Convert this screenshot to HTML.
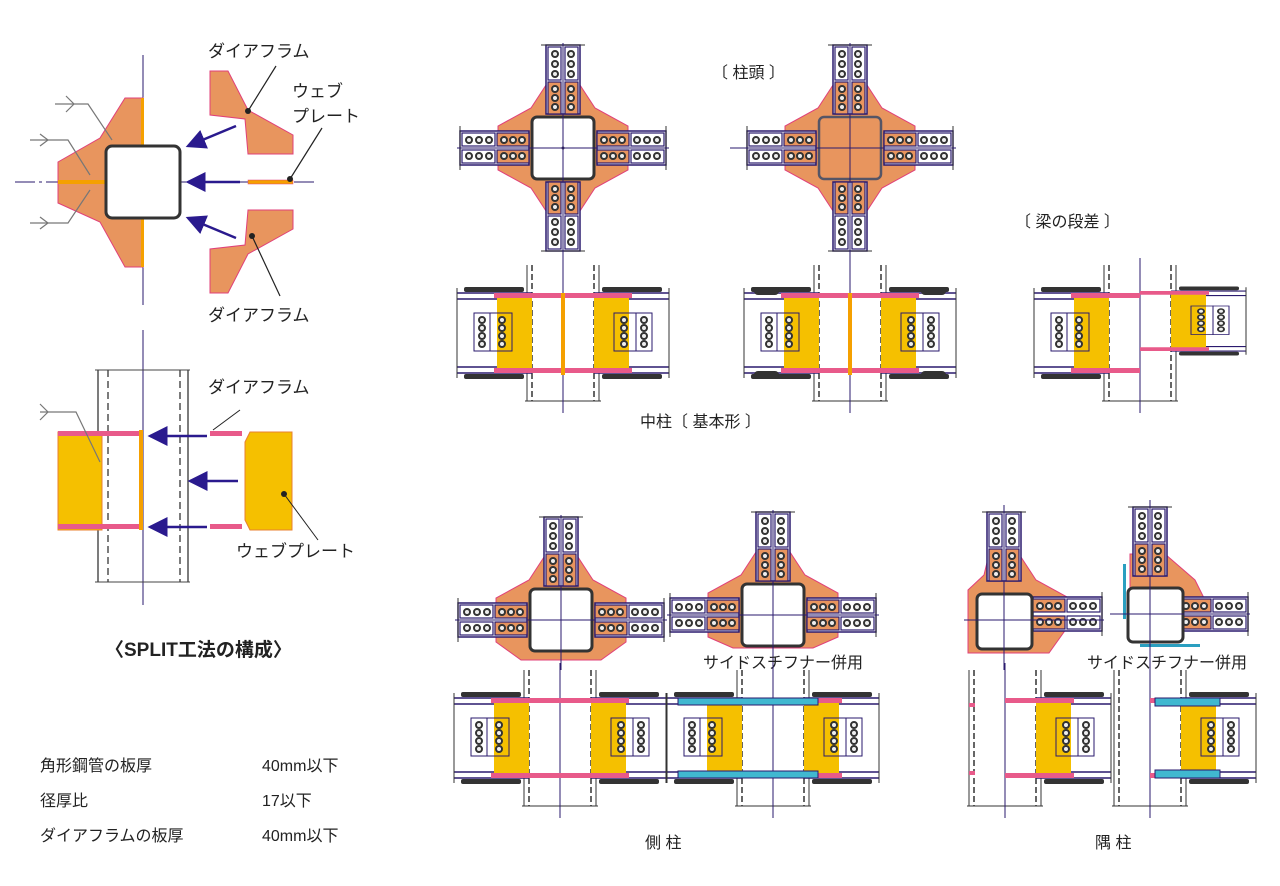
<!DOCTYPE html>
<html><head><meta charset="utf-8"><style>
html,body{margin:0;padding:0;background:#fff;}
svg{display:block}
text{font-family:"Liberation Sans","Noto Sans CJK JP",sans-serif;fill:#222;}
</style></head><body>
<svg width="1280" height="886" viewBox="0 0 1280 886" xmlns="http://www.w3.org/2000/svg">
<defs>
  <g id="bolt"><circle r="3" fill="#eee" stroke="#333" stroke-width="2"/></g>
  <g id="arm">
    <rect x="-17" y="-103" width="34" height="69" fill="#fff" stroke="#2a1a6e" stroke-width="1.5"/>
    <rect x="-15" y="-66" width="13" height="32" fill="#e8955e" stroke="#2a1a6e" stroke-width="1.2"/>
    <rect x="2" y="-66" width="13" height="32" fill="#e8955e" stroke="#2a1a6e" stroke-width="1.2"/>
    <rect x="-15" y="-101" width="13" height="33" fill="none" stroke="#2a1a6e" stroke-width="1.2"/>
    <rect x="2" y="-101" width="13" height="33" fill="none" stroke="#2a1a6e" stroke-width="1.2"/>
    <line x1="-22" y1="-103" x2="22" y2="-103" stroke="#333"/>
    <use href="#bolt" x="-8" y="-94"/><use href="#bolt" x="-8" y="-84"/><use href="#bolt" x="-8" y="-74"/>
    <use href="#bolt" x="8" y="-94"/><use href="#bolt" x="8" y="-84"/><use href="#bolt" x="8" y="-74"/>
    <use href="#bolt" x="-8" y="-59"/><use href="#bolt" x="-8" y="-50"/><use href="#bolt" x="-8" y="-41"/>
    <use href="#bolt" x="8" y="-59"/><use href="#bolt" x="8" y="-50"/><use href="#bolt" x="8" y="-41"/>
  </g>
  <polygon id="core" points="-15,-66 15,-66 32,-40 65,-22 65,22 32,40 15,66 -15,66 -32,40 -65,22 -65,-22 -32,-40" fill="#e8955e" stroke="#e0407a" stroke-width="1"/>
  <rect id="sq" x="-31" y="-31" width="62" height="62" rx="5" fill="#fff" stroke="#333" stroke-width="3"/>
  <g id="ebeam">
    <line x1="0" y1="-40" x2="75" y2="-40" stroke="#2a1a6e" stroke-width="1.5"/>
    <line x1="0" y1="-34" x2="75" y2="-34" stroke="#2a1a6e" stroke-width="1.5"/>
    <line x1="0" y1="34" x2="75" y2="34" stroke="#2a1a6e" stroke-width="1.5"/>
    <line x1="0" y1="40" x2="75" y2="40" stroke="#2a1a6e" stroke-width="1.5"/>
    <rect x="0" y="-37" width="35" height="73" fill="#f5c000"/>
    <rect x="-31" y="-40" width="69" height="5" fill="#e85a8a"/>
    <rect x="-31" y="35" width="69" height="5" fill="#e85a8a"/>
    <rect x="20" y="-20" width="22" height="38" fill="none" stroke="#2a1a6e"/>
    <rect x="42" y="-20" width="16" height="38" fill="#fff" stroke="#2a1a6e"/>
    <g fill="#333"><rect x="8" y="-46" width="60" height="5" rx="2"/><rect x="8" y="41" width="60" height="5" rx="2"/></g>
    <use href="#bolt" x="30" y="-13"/><use href="#bolt" x="30" y="-5"/><use href="#bolt" x="30" y="3"/><use href="#bolt" x="30" y="11"/>
    <use href="#bolt" x="50" y="-13"/><use href="#bolt" x="50" y="-5"/><use href="#bolt" x="50" y="3"/><use href="#bolt" x="50" y="11"/>
    <line x1="75" y1="-45" x2="75" y2="45" stroke="#333"/>
  </g>
  <g id="ecol">
    <line x1="-31" y1="-68" x2="-31" y2="68" stroke="#333" stroke-width="1.5" stroke-dasharray="6,3"/>
    <line x1="31" y1="-68" x2="31" y2="68" stroke="#333" stroke-width="1.5" stroke-dasharray="6,3"/>
    <line x1="-36" y1="-68" x2="-36" y2="68" stroke="#333"/>
    <line x1="36" y1="-68" x2="36" y2="68" stroke="#333"/>
    <line x1="-38" y1="68" x2="38" y2="68" stroke="#333"/>
    <line x1="0" y1="-75" x2="0" y2="80" stroke="#2a1a6e"/>
  </g>
  <marker id="ah" markerWidth="8" markerHeight="8" refX="7" refY="4" orient="auto"><path d="M0,0 L8,4 L0,8z" fill="#2a1a8e"/></marker>
</defs>

<!-- LEFT TOP PLAN -->
<line x1="143" y1="55" x2="143" y2="305" stroke="#2a1a6e"/>
<line x1="15" y1="182" x2="315" y2="182" stroke="#2a1a6e" stroke-dasharray="20,4,3,4"/>
<polygon points="125,98 143,98 143,267 125,267 100,222 58,203 58,162 100,138" fill="#e8955e" stroke="#e0407a"/>
<rect x="141" y="98" width="3" height="169" fill="#f5a000"/>
<rect x="58" y="180" width="50" height="4" fill="#f5a000"/>
<rect x="106" y="146" width="74" height="72" rx="6" fill="#fff" stroke="#333" stroke-width="3"/>
<polygon points="210,71 228,71 248,110 293,135 293,154 248,154 245,119 210,115" fill="#e8955e" stroke="#e0407a"/>
<polygon points="210,293 228,293 248,254 293,229 293,210 248,210 245,245 210,249" fill="#e8955e" stroke="#e0407a"/>
<rect x="248" y="180" width="45" height="4" fill="#f5a000" stroke="#e0407a" stroke-width="0.5"/>
<g stroke="#2a1a8e" stroke-width="2.5" marker-end="url(#ah)">
<line x1="236" y1="126" x2="188" y2="146"/><line x1="240" y1="182" x2="188" y2="182"/><line x1="236" y1="238" x2="188" y2="218"/></g>
<g fill="none" stroke="#777" stroke-width="1.2">
<path d="M55,104 L88,104 L112,140"/><path d="M30,140 L68,140 L90,175"/><path d="M30,223 L68,223 L90,190"/>
<path d="M66,96 L74,104 L66,112"/><path d="M40,134 L48,140 L40,146"/><path d="M40,217 L48,223 L40,229"/>
</g>
<g stroke="#222" stroke-width="1.2"><line x1="248" y1="111" x2="276" y2="66"/><line x1="290" y1="179" x2="322" y2="128"/><line x1="252" y1="236" x2="280" y2="296"/></g>
<g fill="#222"><circle cx="248" cy="111" r="3"/><circle cx="290" cy="179" r="3"/><circle cx="252" cy="236" r="3"/></g>
<text x="208" y="57" font-size="17">ダイアフラム</text>
<text x="292" y="97" font-size="17">ウェブ</text>
<text x="292" y="122" font-size="17">プレート</text>
<text x="208" y="321" font-size="17">ダイアフラム</text>

<!-- LEFT ELEVATION -->
<line x1="143" y1="330" x2="143" y2="605" stroke="#2a1a6e"/>
<g stroke="#444" stroke-width="1.4"><line x1="98" y1="370" x2="98" y2="582"/><line x1="188" y1="370" x2="188" y2="582"/></g>
<g stroke="#444" stroke-width="1.4" stroke-dasharray="7,4"><line x1="108" y1="370" x2="108" y2="582"/><line x1="180" y1="370" x2="180" y2="582"/></g>
<line x1="95" y1="370" x2="190" y2="370" stroke="#444"/><line x1="95" y1="582" x2="190" y2="582" stroke="#444"/>
<rect x="58" y="432" width="44" height="98" fill="#f5c000" stroke="#e88030"/>
<rect x="58" y="431" width="82" height="5" fill="#e85a8a"/><rect x="58" y="524" width="82" height="5" fill="#e85a8a"/>
<rect x="139" y="430" width="4" height="100" fill="#f5a000"/>
<polygon points="250,432 292,432 292,530 250,530 245,520 245,442" fill="#f5c000" stroke="#e88030"/>
<rect x="210" y="431" width="32" height="5" fill="#e85a8a"/><rect x="210" y="524" width="32" height="5" fill="#e85a8a"/>
<g stroke="#2a1a8e" stroke-width="2.5" marker-end="url(#ah)">
<line x1="207" y1="436" x2="150" y2="436"/><line x1="238" y1="481" x2="190" y2="481"/><line x1="207" y1="527" x2="150" y2="527"/></g>
<path d="M40,412 L76,412 L100,462" fill="none" stroke="#777" stroke-width="1.2"/><path d="M40,404 L48,412 L40,420" fill="none" stroke="#777" stroke-width="1.2"/>
<line x1="240" y1="410" x2="213" y2="430" stroke="#222"/>
<line x1="284" y1="494" x2="318" y2="540" stroke="#222"/><circle cx="284" cy="494" r="3" fill="#222"/>
<text x="208" y="393" font-size="17">ダイアフラム</text>
<text x="236" y="557" font-size="17">ウェブプレート</text>
<text x="105" y="656" font-size="19" font-weight="bold">〈SPLIT工法の構成〉</text>
<text x="40" y="771" font-size="16">角形鋼管の板厚</text><text x="262" y="771" font-size="16">40mm以下</text>
<text x="40" y="806" font-size="16">径厚比</text><text x="262" y="806" font-size="16">17以下</text>
<text x="40" y="841" font-size="16">ダイアフラムの板厚</text><text x="262" y="841" font-size="16">40mm以下</text>

<!-- PLAN 1 -->
<g transform="translate(563,148)">
<use href="#core"/>
<use href="#arm"/><use href="#arm" transform="rotate(90)"/><use href="#arm" transform="rotate(180)"/><use href="#arm" transform="rotate(270)"/>
<use href="#sq"/><circle r="1.5" fill="#333"/>
<line x1="0" y1="-105" x2="0" y2="125" stroke="#2a1a6e"/><line x1="-106" y1="0" x2="106" y2="0" stroke="#2a1a6e"/>
</g>
<!-- PLAN 2 -->
<g transform="translate(850,148)">
<use href="#core"/>
<use href="#arm"/><use href="#arm" transform="rotate(90)"/><use href="#arm" transform="rotate(180)"/><use href="#arm" transform="rotate(270)"/>
<rect x="-31" y="-31" width="62" height="62" rx="5" fill="#e8955e" stroke="#556" stroke-width="2.5"/>
<line x1="0" y1="-105" x2="0" y2="125" stroke="#2a1a6e"/><line x1="-120" y1="0" x2="106" y2="0" stroke="#2a1a6e"/>
</g>
<text x="712" y="78" font-size="16">〔 柱頭 〕</text>
<text x="1015" y="227" font-size="16">〔 梁の段差 〕</text>

<!-- ELEV 1 -->
<g transform="translate(563,333)"><use href="#ecol"/><use href="#ebeam" transform="translate(-31,0) scale(-1,1)"/>
<use href="#ebeam" transform="translate(31,0)"/><rect x="-2" y="-40" width="4" height="82" fill="#f5a000"/></g>
<g transform="translate(850,333)"><use href="#ecol"/><use href="#ebeam" transform="translate(-31,0) scale(-1,1)"/>
<use href="#ebeam" transform="translate(31,0)"/><rect x="-2" y="-40" width="4" height="82" fill="#f5a000"/>
<g fill="#333"><rect x="-96" y="-46" width="25" height="8" rx="4"/><rect x="71" y="-46" width="25" height="8" rx="4"/><rect x="-96" y="38" width="25" height="8" rx="4"/><rect x="71" y="38" width="25" height="8" rx="4"/></g></g>
<text x="640" y="427" font-size="16">中柱〔 基本形 〕</text>

<!-- step elevation -->
<g transform="translate(1140,333)"><use href="#ecol"/><use href="#ebeam" transform="translate(-31,0) scale(-1,1)"/>
<use href="#ebeam" transform="translate(31,-12) scale(1,0.75)"/></g>

<!-- SIDE PLANS -->
<g transform="translate(561,620)">
<polygon points="-15,-66 15,-66 32,-40 65,-22 65,22 40,40 -40,40 -65,22 -65,-22 -32,-40" fill="#e8955e" stroke="#e0407a"/>
<use href="#arm"/><use href="#arm" transform="rotate(90)"/><use href="#arm" transform="rotate(270)"/><use href="#sq"/>
<line x1="0" y1="-105" x2="0" y2="50" stroke="#2a1a6e"/><line x1="-106" y1="0" x2="106" y2="0" stroke="#2a1a6e"/>
</g>
<g transform="translate(773,615)">
<polygon points="-15,-66 15,-66 32,-40 65,-22 65,22 40,33 -40,33 -65,22 -65,-22 -32,-40" fill="#e8955e" stroke="#e0407a"/>
<use href="#arm"/><use href="#arm" transform="rotate(90)"/><use href="#arm" transform="rotate(270)"/><use href="#sq"/>
<line x1="0" y1="-105" x2="0" y2="50" stroke="#2a1a6e"/><line x1="-106" y1="0" x2="106" y2="0" stroke="#2a1a6e"/>
</g>
<text x="703" y="668" font-size="16">サイドスチフナー併用</text>
<!-- CORNER PLANS -->
<g transform="translate(1004,620)">
<polygon points="-15,-66 15,-66 32,-40 65,-22 65,5 45,33 -36,33 -36,-30 -20,-45" fill="#e8955e" stroke="#e0407a"/>
<use href="#arm" transform="translate(0,-5)"/><use href="#arm" transform="translate(-5,-6) rotate(90)"/><rect x="-27" y="-26" width="55" height="55" rx="5" fill="#fff" stroke="#333" stroke-width="3"/>
<line x1="0" y1="-115" x2="0" y2="50" stroke="#2a1a6e"/><line x1="-40" y1="0" x2="100" y2="0" stroke="#2a1a6e"/>
</g>
<g transform="translate(1150,620)">
<polygon points="-20,-66 15,-66 45,-40 60,-10 65,10 -20,10" fill="#e8955e" stroke="#e0407a"/>
<use href="#arm" transform="translate(0,-10)"/><use href="#arm" transform="translate(-5,-6) rotate(90)"/>
<rect x="-22" y="-32" width="55" height="54" rx="5" fill="#fff" stroke="#333" stroke-width="3"/>
<rect x="-27" y="-56" width="3" height="55" fill="#2a9fc0"/><rect x="-10" y="24" width="60" height="3" fill="#2a9fc0"/>
<line x1="0" y1="-120" x2="0" y2="50" stroke="#2a1a6e"/><line x1="-40" y1="-6" x2="100" y2="-6" stroke="#2a1a6e"/>
</g>
<text x="1087" y="668" font-size="16">サイドスチフナー併用</text>

<!-- SIDE ELEVATIONS -->
<g transform="translate(560,738)"><use href="#ecol"/><use href="#ebeam" transform="translate(-31,0) scale(-1,1)"/><use href="#ebeam" transform="translate(31,0)"/></g>
<g transform="translate(773,738)"><use href="#ecol"/><use href="#ebeam" transform="translate(-31,0) scale(-1,1)"/><use href="#ebeam" transform="translate(31,0)"/>
<g fill="#40b8d0" stroke="#2a1a6e"><rect x="-95" y="-40" width="140" height="7"/><rect x="-95" y="33" width="140" height="7"/></g></g>
<g transform="translate(1005,738)"><use href="#ecol"/><use href="#ebeam" transform="translate(31,0)"/>
<rect x="-36" y="-35" width="6" height="4" fill="#e85a8a"/><rect x="-36" y="33" width="6" height="4" fill="#e85a8a"/></g>
<g transform="translate(1150,738)"><use href="#ecol"/><use href="#ebeam" transform="translate(31,0)"/>
<g fill="#40b8d0" stroke="#2a1a6e"><rect x="5" y="-40" width="65" height="8"/><rect x="5" y="32" width="65" height="8"/></g></g>
<text x="645" y="848" font-size="16">側 柱</text>
<text x="1095" y="848" font-size="16">隅 柱</text>
</svg>
</body></html>
